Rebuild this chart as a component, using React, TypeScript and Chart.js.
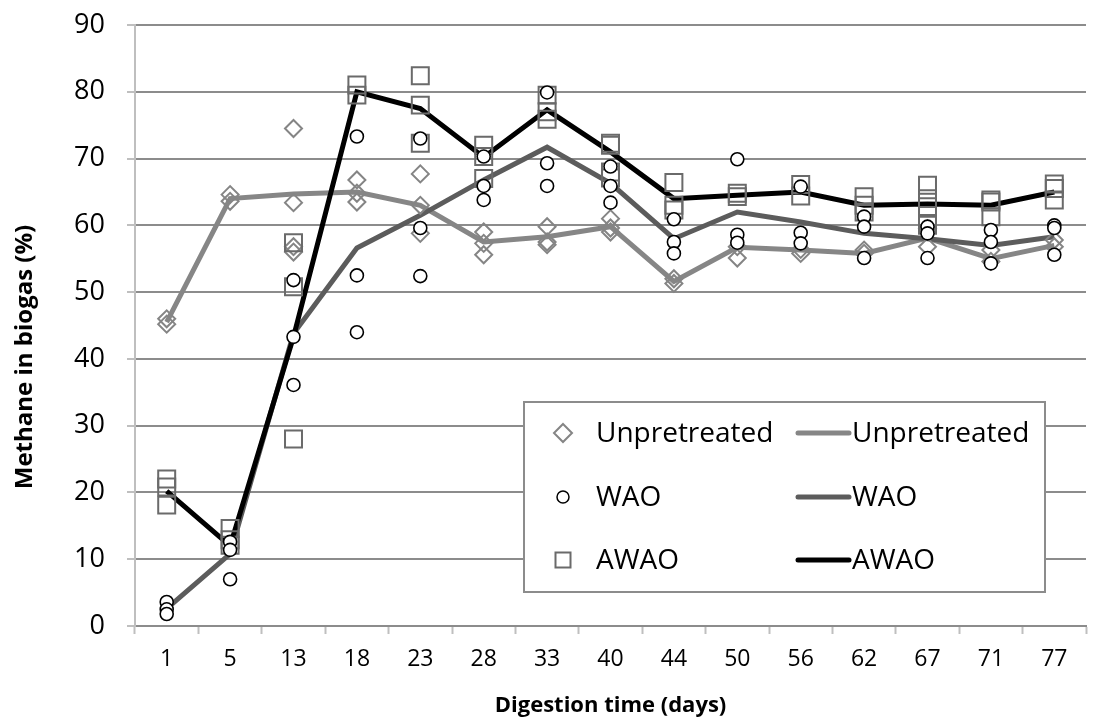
import React, { useEffect, useRef } from 'react';
import { Chart, registerables } from 'chart.js';

Chart.register(...registerables);

// ---- Data ----
const categories = ['1', '5', '13', '18', '23', '28', '33', '40', '44', '50', '56', '62', '67', '71', '77'];
const legendLabels = ['Unpretreated', 'WAO', 'AWAO'];
const xTitle = 'Digestion time (days)';
const yTitle = 'Methane in biogas (%)';

const unpretreatedReplicates: number[][] = [
  [46.0, 45.2],
  [64.6, 63.6],
  [74.5, 63.4, 56.8, 56.0],
  [66.8, 64.8, 63.5],
  [67.7, 63.0, 58.8],
  [59.0, 57.3, 55.6],
  [59.8, 57.5, 57.1],
  [61.0, 59.6, 59.0],
  [52.0, 51.3],
  [56.8, 55.1],
  [56.4, 55.8],
  [56.3, 55.8],
  [59.5, 56.8],
  [56.3, 54.6],
  [57.8, 56.8],
];

const waoReplicates: number[][] = [
  [3.6, 2.5, 1.8],
  [12.6, 11.4, 7.0],
  [51.8, 43.3, 36.1],
  [73.3, 52.5, 44.0],
  [73.0, 59.6, 52.4],
  [70.3, 65.9, 63.8],
  [79.9, 69.3, 65.9],
  [68.8, 65.9, 63.4],
  [60.9, 57.5, 55.8],
  [69.9, 58.6, 57.4],
  [65.8, 58.9, 57.3],
  [61.3, 59.8, 55.1],
  [59.8, 58.8, 55.1],
  [59.3, 57.5, 54.3],
  [60.0, 59.6, 55.6],
];

const awaoReplicates: number[][] = [
  [22.0, 20.8, 18.1],
  [14.6, 12.9, 12.1],
  [57.4, 50.8, 28.0],
  [81.0, 79.5],
  [82.4, 78.0, 72.3],
  [72.0, 70.3, 67.0],
  [79.5, 77.0, 75.9],
  [72.3, 72.0, 68.0, 67.1],
  [66.4, 63.0, 62.3],
  [64.8, 64.3],
  [66.1, 64.4],
  [64.3, 63.0, 62.0],
  [66.0, 64.0, 62.8, 60.0],
  [63.8, 63.5, 61.3],
  [66.2, 65.5, 63.8],
];

const unpretreatedMean = [45.5, 64.0, 64.7, 65.0, 63.0, 57.5, 58.3, 59.8, 51.6, 56.7, 56.3, 55.8, 58.1, 55.0, 57.0];
const waoMean = [2.6, 10.8, 43.8, 56.6, 61.5, 66.8, 71.7, 66.3, 58.0, 62.0, 60.5, 58.8, 58.0, 57.0, 58.3];
const awaoMean = [20.2, 12.0, 43.3, 80.0, 77.5, 70.2, 77.3, 71.0, 64.0, 64.5, 65.0, 63.0, 63.2, 63.0, 65.0];

// ---- Styles ----
const FONT = "'Open Sans', 'DejaVu Sans', sans-serif";
const C_UNPRE_PT = '#858585';
const C_AWAO_PT = '#6a6a6a';
const C_UNPRE_LINE = '#868686';
const C_WAO_LINE = '#5c5c5c';
const C_AWAO_LINE = '#000000';

const toPoints = (reps: number[][]) =>
  categories.flatMap((c, i) => reps[i].map((y) => ({ x: c, y })));

const legendPlugin = {
  id: 'boxLegend',
  afterDraw(chart: any) {
    const ctx = chart.ctx as CanvasRenderingContext2D;
    ctx.save();
    // y-axis title
    ctx.save();
    ctx.translate(25, 357);
    ctx.rotate(-Math.PI / 2);
    ctx.font = `bold 24px ${FONT}`;
    ctx.fillStyle = '#000';
    ctx.textAlign = 'center';
    ctx.textBaseline = 'middle';
    ctx.fillText(yTitle, 0, 0);
    ctx.restore();

    const bx = 524, by = 402, bw = 521, bh = 190;
    ctx.fillStyle = '#ffffff';
    ctx.fillRect(bx, by, bw, bh);
    ctx.strokeStyle = '#8c8c8c';
    ctx.lineWidth = 2;
    ctx.strokeRect(bx, by, bw, bh);

    const rows = [433, 497, 560];
    const mx = 563;
    const lineColors = [C_UNPRE_LINE, C_WAO_LINE, C_AWAO_LINE];
    ctx.font = `28px ${FONT}`;
    ctx.textBaseline = 'middle';
    ctx.textAlign = 'left';
    rows.forEach((ry, i) => {
      ctx.beginPath();
      ctx.lineWidth = 2;
      if (i === 0) {
        const r = 9;
        ctx.strokeStyle = C_UNPRE_PT;
        ctx.moveTo(mx, ry - r);
        ctx.lineTo(mx + r, ry);
        ctx.lineTo(mx, ry + r);
        ctx.lineTo(mx - r, ry);
        ctx.closePath();
        ctx.stroke();
      } else if (i === 1) {
        ctx.strokeStyle = '#000';
        ctx.lineWidth = 1.5;
        ctx.arc(mx, ry, 6, 0, Math.PI * 2);
        ctx.stroke();
      } else {
        ctx.strokeStyle = C_AWAO_PT;
        ctx.strokeRect(mx - 7.5, ry - 7.5, 15, 15);
      }
      ctx.fillStyle = '#000';
      ctx.fillText(legendLabels[i], 596, ry + 1);
      ctx.beginPath();
      ctx.strokeStyle = lineColors[i];
      ctx.lineWidth = 5;
      ctx.lineCap = 'round';
      ctx.moveTo(798, ry);
      ctx.lineTo(849, ry);
      ctx.stroke();
      ctx.fillText(legendLabels[i], 852, ry + 1);
    });
    ctx.restore();
  },
};

export default function App() {
  const ref = useRef<HTMLCanvasElement>(null);

  useEffect(() => {
    if (!ref.current) return;
    const chart = new Chart(ref.current, {
      type: 'line',
      data: {
        labels: categories,
        datasets: [
          {
            label: 'WAO points',
            data: toPoints(waoReplicates) as any,
            showLine: false,
            pointStyle: 'circle',
            pointRadius: 6.5,
            pointBorderWidth: 1.6,
            pointBorderColor: '#000',
            pointBackgroundColor: '#fff',
            order: 0,
          },
          {
            label: 'AWAO points',
            data: toPoints(awaoReplicates) as any,
            showLine: false,
            pointStyle: 'rect',
            pointRadius: 12,
            pointBorderWidth: 2,
            pointBorderColor: C_AWAO_PT,
            pointBackgroundColor: 'rgba(0,0,0,0)',
            order: 1,
          },
          {
            label: 'Unpretreated points',
            data: toPoints(unpretreatedReplicates) as any,
            showLine: false,
            pointStyle: 'rectRot',
            pointRadius: 8.5,
            pointBorderWidth: 2,
            pointBorderColor: C_UNPRE_PT,
            pointBackgroundColor: 'rgba(0,0,0,0)',
            order: 2,
          },
          {
            label: 'AWAO',
            data: awaoMean,
            borderColor: C_AWAO_LINE,
            borderWidth: 5,
            pointRadius: 0,
            tension: 0,
            order: 3,
          },
          {
            label: 'WAO',
            data: waoMean,
            borderColor: C_WAO_LINE,
            borderWidth: 5,
            pointRadius: 0,
            tension: 0,
            order: 4,
          },
          {
            label: 'Unpretreated',
            data: unpretreatedMean,
            borderColor: C_UNPRE_LINE,
            borderWidth: 5,
            pointRadius: 0,
            tension: 0,
            order: 5,
          },
        ],
      },
      options: {
        responsive: false,
        animation: false,
        layout: { padding: { left: 0, right: 2, top: 25, bottom: 0 } },
        plugins: {
          legend: { display: false },
          tooltip: { enabled: false },
        },
        scales: {
          x: {
            type: 'category',
            offset: true,
            afterFit: (s: any) => { s.height = 95; s.paddingLeft = 0; s.paddingRight = 0; },
            grid: {
              display: true,
              drawOnChartArea: false,
              offset: true,
              tickLength: 8,
              tickColor: '#bfbfbf',
              tickWidth: 2,
            },
            border: { display: true, color: '#8c8c8c', width: 2 },
            ticks: {
              color: '#000',
              padding: 12,
              maxRotation: 0,
              autoSkip: false,
              font: { family: FONT, size: 23 },
            },
            title: {
              display: true,
              text: xTitle,
              color: '#000',
              padding: { top: 0, bottom: 2 },
              font: { family: FONT, size: 22, weight: 'bold' },
            },
          },
          y: {
            min: 0,
            max: 90,
            afterFit: (s: any) => { s.width = 135; s.paddingTop = 0; s.paddingBottom = 0; },
            grid: {
              color: '#8c8c8c',
              lineWidth: 2,
              tickLength: 8,
              tickColor: '#bfbfbf',
              tickWidth: 2,
            },
            border: { display: true, color: '#bfbfbf', width: 2 },
            ticks: {
              stepSize: 10,
              color: '#000',
              padding: 22,
              font: { family: FONT, size: 27 },
            },
            title: { display: false },
          },
        },
      },
      plugins: [legendPlugin],
    });
    return () => chart.destroy();
  }, []);

  return (
    <div style={{ position: 'fixed', left: 0, top: 0, width: 1093, height: 721, overflow: 'hidden', background: '#fff' }}>
      <canvas ref={ref} width={1100} height={721} style={{ display: 'block' }} />
    </div>
  );
}
